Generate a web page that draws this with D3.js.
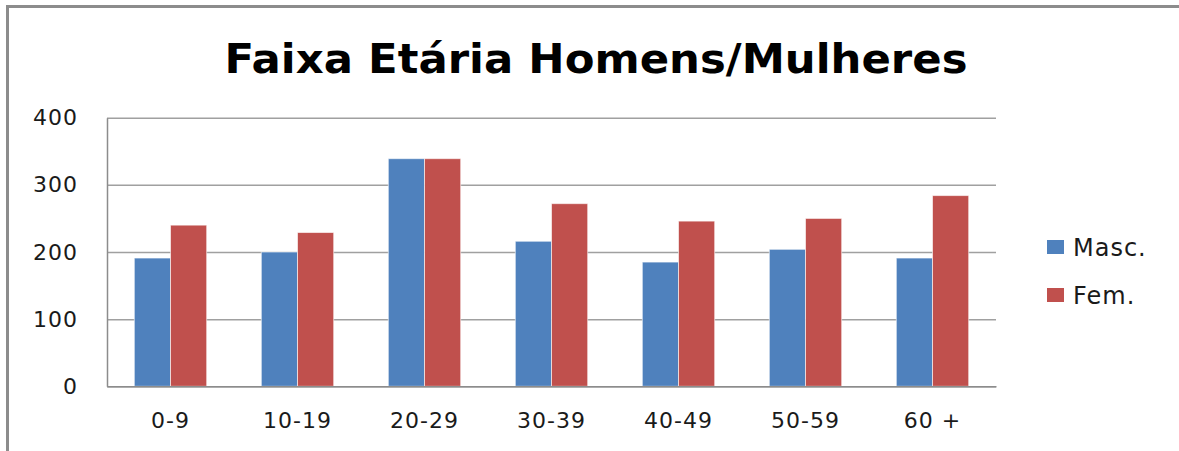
<!DOCTYPE html>
<html>
<head>
<meta charset="utf-8">
<script src="https://cdn.jsdelivr.net/npm/d3@7"></script>
<style>
html,body{margin:0;padding:0;background:#fff;}
svg{display:block;}
</style>
</head>
<body>
<svg id="chart" width="1179" height="451"></svg>
<script>
const categories = ["0-9","10-19","20-29","30-39","40-49","50-59","60 +"];
const seriesNames = ["Masc.","Fem."];
const masc = [191,200,339,216,185,204,191];
const fem = [240,229,339,272,246,250,284];
const yTicks = [0,100,200,300,400];
const colors = ["#4F81BD","#C0504D"];
const title = "Faixa Etária Homens/Mulheres";

const svg = d3.select("#chart");
const W = 1179, H = 451;
const m = {left:107, right:W-996, top:117.7, bottom:H-386.3};

// outer frame (left and top)
svg.append("path")
  .attr("d", `M7.5,${H} L7.5,6.5 L${W},6.5`)
  .attr("fill","none").attr("stroke","#8c8c8c").attr("stroke-width",3);

svg.append("text")
  .attr("x", 596).attr("y", 73)
  .attr("text-anchor","middle")
  .attr("font-family","DejaVu Sans")
  .attr("font-weight","bold")
  .attr("font-size",41)
  .attr("textLength",743).attr("lengthAdjust","spacingAndGlyphs")
  .attr("fill","#000")
  .text(title);

const x0 = d3.scaleBand().domain(categories).range([m.left, W-m.right]).paddingInner(0.43).paddingOuter(0.215);
const x1 = d3.scaleBand().domain(seriesNames).range([0, x0.bandwidth()]).padding(0);
const y = d3.scaleLinear().domain([0,400]).range([H-m.bottom, m.top]);

// gridlines
const grid = svg.append("g")
  .attr("transform",`translate(${m.left},0)`)
  .call(d3.axisLeft(y).tickValues(yTicks).tickSize(-(W-m.right-m.left)).tickFormat(""));
grid.select(".domain").remove();
grid.selectAll("line").attr("stroke","#a0a0a0").attr("stroke-width",1.5);

// bars
const data = categories.map((c,i)=>({cat:c, vals:[masc[i], fem[i]]}));
const groups = svg.append("g").selectAll("g").data(data).join("g")
  .attr("transform", d=>`translate(${x0(d.cat)},0)`);
groups.selectAll("rect").data(d=>d.vals.map((v,j)=>({name:seriesNames[j], v, j}))).join("rect")
  .attr("x", d=>x1(d.name))
  .attr("y", d=>y(d.v))
  .attr("width", x1.bandwidth())
  .attr("height", d=>y(0)-y(d.v))
  .attr("fill", d=>colors[d.j])
  .attr("stroke","rgba(255,255,255,0.6)").attr("stroke-width",1);

// axes lines
const yAxis = svg.append("g")
  .attr("transform",`translate(${m.left},0)`)
  .call(d3.axisLeft(y).tickValues(yTicks).tickSize(0).tickPadding(29));
yAxis.select(".domain").attr("stroke","#8c8c8c").attr("stroke-width",1.5);
yAxis.selectAll("text").attr("font-family","DejaVu Sans").attr("font-size",22)
  .attr("letter-spacing","1px").attr("fill","#1a1a1a");

const xAxis = svg.append("g")
  .attr("transform",`translate(0,${y(0)})`)
  .call(d3.axisBottom(x0).tickSize(0).tickPadding(26));
xAxis.select(".domain").attr("stroke","#8c8c8c").attr("stroke-width",1.5);
xAxis.selectAll("text").attr("font-family","DejaVu Sans").attr("font-size",22)
  .attr("letter-spacing","1px").attr("fill","#1a1a1a");

// legend
const legend = svg.append("g");
const ly = [240, 288];
seriesNames.forEach((n,i)=>{
  legend.append("rect").attr("x",1047).attr("y",ly[i]).attr("width",17).attr("height",14).attr("fill",colors[i]);
  legend.append("text").attr("x",1073).attr("y",ly[i]+16)
    .attr("font-family","DejaVu Sans").attr("font-size",24).attr("letter-spacing","1px")
    .attr("fill","#1a1a1a").text(n);
});
</script>
</body>
</html>
